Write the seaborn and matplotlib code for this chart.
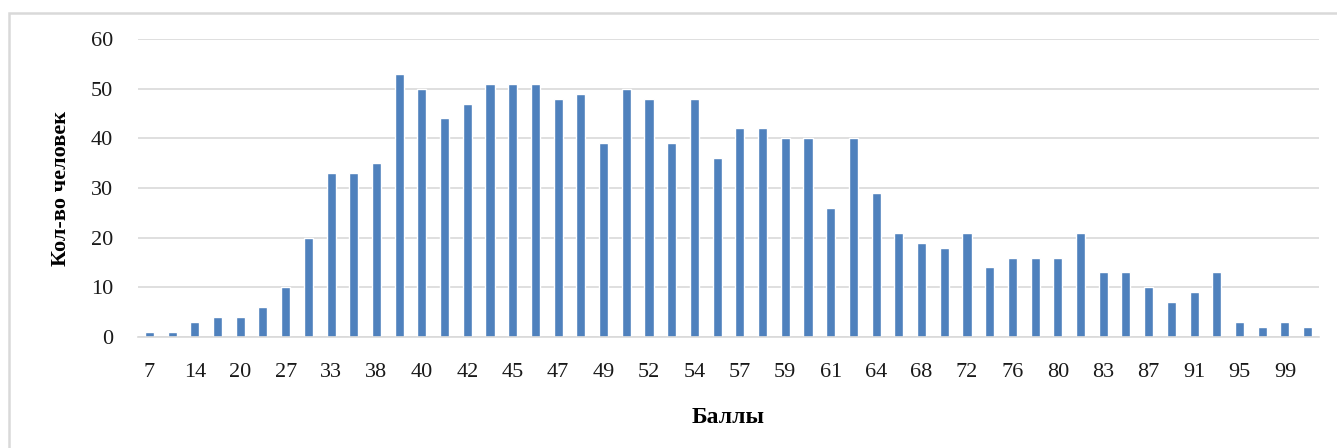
import numpy as np
import pandas as pd
import seaborn as sns
import matplotlib.pyplot as plt
from matplotlib.patches import Rectangle

# баллы (промежуточные значения без подписи на оси оценены)
scores = [7, 10, 14, 17, 20, 24, 27, 30, 33, 36, 38, 39, 40, 41, 42, 44, 45, 46,
          47, 48, 49, 51, 52, 53, 54, 56, 57, 58, 59, 60, 61, 62, 64, 66, 68, 70,
          72, 74, 76, 78, 80, 82, 83, 85, 87, 89, 91, 93, 95, 97, 99, 100]
counts = [1, 1, 3, 4, 4, 6, 10, 20, 33, 33, 35, 53, 50, 44, 47, 51, 51, 51,
          48, 49, 39, 50, 48, 39, 48, 36, 42, 42, 40, 40, 26, 40, 29, 21, 19, 18,
          21, 14, 16, 16, 16, 21, 13, 13, 10, 7, 9, 13, 3, 2, 3, 2]
y_ticks = [0, 10, 20, 30, 40, 50, 60]

df = pd.DataFrame({'score': [str(s) for s in scores], 'count': counts})

sns.set_theme(style="white")
plt.rcParams['font.family'] = ['Liberation Serif', 'DejaVu Serif']

fig = plt.figure(figsize=(13.37, 4.48), dpi=100)
fig.patches.append(Rectangle((9 / 1337, -0.1), 1.2, 1.1 - 13 / 448,
                             transform=fig.transFigure, fill=False,
                             edgecolor='#d9d9d9', linewidth=1.8))
ax = fig.add_axes([138 / 1337, 1 - 337 / 448, 1181 / 1337, 298 / 448])

sns.barplot(data=df, x='score', y='count', color='#4f81bd', saturation=1,
            width=0.4, ax=ax)

ax.set_ylim(0, 60)
ax.set_xlim(-0.5, len(scores) - 0.5)
ax.set_yticks(y_ticks)
ax.yaxis.grid(True, color='#d9d9d9', linewidth=1.2)
ax.set_axisbelow(True)
for s in ['top', 'right', 'left']:
    ax.spines[s].set_visible(False)
ax.spines['bottom'].set_color('#d9d9d9')
ax.spines['bottom'].set_linewidth(1.2)

pos = list(range(0, len(scores), 2))
ax.set_xticks(pos)
ax.set_xticklabels([df['score'][i] for i in pos])
ax.tick_params(axis='x', length=0, pad=19, labelsize=16, labelcolor='#1a1a1a')
ax.tick_params(axis='y', length=0, pad=18, labelsize=16, labelcolor='#1a1a1a')

ax.set_xlabel('Баллы', fontsize=17, fontweight='bold', labelpad=18, color='black')
ax.set_ylabel('Кол-во человек', fontsize=16, fontweight='bold', labelpad=14, color='black')

plt.savefig('out.png', dpi=100)
plt.close()
